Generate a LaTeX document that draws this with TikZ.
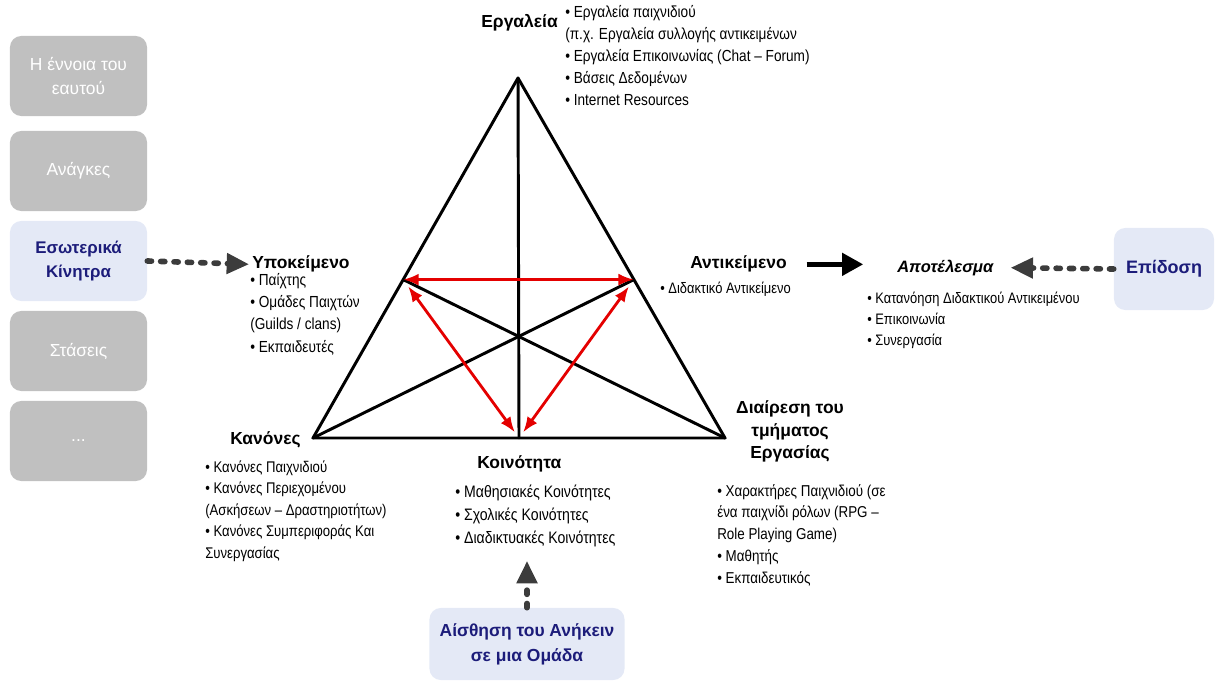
\documentclass[tikz,border=0pt]{standalone}
\usepackage{fontspec}
\setmainfont{Liberation Sans}
\newfontfamily\narrowfont{Liberation Sans}[FakeStretch=0.85]
\usepackage{tikz}
\usetikzlibrary{positioning, arrows.meta, calc}
\definecolor{boxgrey}{RGB}{192,192,192}
\definecolor{boxblue}{RGB}{228,233,246}
\definecolor{navy}{RGB}{28,28,122}
\definecolor{linkred}{RGB}{228,0,0}
\definecolor{dashgrey}{RGB}{60,60,60}

\begin{document}
\begin{tikzpicture}[
  x=0.025cm, y=-0.025cm,
  sidebox/.style={fill=boxgrey, text=white, rounded corners=8pt, minimum width=3.425cm, minimum height=2cm, align=center, inner sep=2pt, font=\fontsize{12.4pt}{17pt}\selectfont},
  keybox/.style={sidebox, fill=boxblue, text=navy, font=\bfseries\fontsize{12pt}{17pt}\selectfont},
  head/.style={inner sep=0pt, font=\bfseries\fontsize{12.4pt}{16.3pt}\selectfont},
  items/.style={inner sep=0pt, align=left, font=\narrowfont\fontsize{#1}{1.38\dimexpr#1\relax}\selectfont},
  items/.default=10.8pt,
  tri/.style={line width=2.1pt, line join=round, line cap=round},
  link/.style={linkred, line width=2pt, {Latex[length=11pt,width=8.5pt]}-{Latex[length=11pt,width=8.5pt]}},
  dashlink/.style={dashgrey, line width=4pt, line cap=round, dash pattern=on 3pt off 6.5pt, -{Triangle[length=16pt,width=14pt]}},
  bigarrow/.style={black, line width=3.5pt, -{Triangle[length=15pt,width=15.5pt]}}
]
\useasboundingbox (0,0) rectangle (1224,689);

% --- left column of boxes ---
\node[sidebox] (self) at (78.5,76) {Η έννοια του\\εαυτού};
\node[sidebox] (needs) at (78.5,171) {Ανάγκες};
\node[keybox] (motive) at (78.5,261) {Εσωτερικά\\Κίνητρα};
\node[sidebox] (attitude) at (78.5,351) {Στάσεις};
\node[sidebox] (more) at (78.5,441) {...};

% --- triangle corners ---
\coordinate (apex) at (518,78);
\coordinate (left) at (313,438);
\coordinate (right) at (725,438);
\coordinate (midl) at ($(apex)!0.56!(left)$);
\coordinate (midr) at ($(apex)!0.56!(right)$);
\coordinate (midb) at ($(left)!0.5!(right)$);

\draw[tri] (apex) -- (left) -- (right) -- cycle;
\draw[tri] (apex) -- (midb);
\draw[tri] (left) -- (midr);
\draw[tri] (right) -- (midl);

% red links between the sides
\draw[link] (midl) -- (midr);
\draw[link, shorten <=6pt, shorten >=5pt] (midl) -- (midb);
\draw[link, shorten <=6pt, shorten >=5pt] (midr) -- (midb);

% --- labels at the corners (base = last line) ---
\node[head, anchor=base east] (tools) at (558,28) {Εργαλεία};
\node[items=11.4pt, anchor=base west] (toollist) at (565,106) {• Εργαλεία παιχνιδιού\\(π.χ. Εργαλεία συλλογής αντικειμένων\\• Εργαλεία Επικοινωνίας (Chat – Forum)\\• Βάσεις Δεδομένων\\• Internet Resources};

\node[head, anchor=base west] (subj) at (252,269) {Υποκείμενο};
\node[items=11.4pt, anchor=base west] (subjlist) at (250,352) {• Παίχτης\\• Ομάδες Παιχτών\\(Guilds / clans)\\• Εκπαιδευτές};

\node[head, anchor=base west] (obj) at (690,269) {Αντικείμενο};
\node[items, anchor=base west] (objlist) at (660,293) {• Διδακτικό Αντικείμενο};

\node[head, anchor=base west, font=\bfseries\itshape\fontsize{11.7pt}{16pt}\selectfont] (result) at (897,272) {Αποτέλεσμα};
\node[items, anchor=base west] (resultlist) at (867,345) {• Κατανόηση Διδακτικού Αντικειμένου\\• Επικοινωνία\\• Συνεργασία};

\node[head, anchor=base west] (rules) at (230,444) {Κανόνες};
\node[items=11pt, anchor=base west] (rulelist) at (205,558) {• Κανόνες Παιχνιδιού\\• Κανόνες Περιεχομένου\\(Ασκήσεων – Δραστηριοτήτων)\\• Κανόνες Συμπεριφοράς Και\\Συνεργασίας};

\node[head, anchor=base west] (comm) at (477,468) {Κοινότητα};
\node[items=11.8pt, anchor=base west] (commlist) at (455,543) {• Μαθησιακές Κοινότητες\\• Σχολικές Κοινότητες\\• Διαδικτυακές Κοινότητες};

\node[head, anchor=north, align=center] (labour) at (790,400) {Διαίρεση του\\τμήματος\\Εργασίας};
\node[items=11.2pt, anchor=base west] (labourlist) at (717,583) {• Χαρακτήρες Παιχνιδιού (σε\\ένα παιχνίδι ρόλων (RPG –\\Role Playing Game)\\• Μαθητής\\• Εκπαιδευτικός};

% --- boxes on the right and below ---
\node[keybox, minimum width=2.5cm, minimum height=2.05cm, font=\bfseries\fontsize{12.8pt}{17pt}\selectfont] (perform) at (1164,269) {Επίδοση};
\node[keybox, minimum width=4.875cm, minimum height=1.8cm, font=\bfseries\fontsize{12.4pt}{17.7pt}\selectfont] (belong) at (527,644) {Αίσθηση του Ανήκειν\\σε μια Ομάδα};

% --- arrows ---
\draw[dashlink, shorten >=2pt] (motive.east) -- (subj.west);
\draw[dashlink, shorten >=12pt] (perform.west) -- (result.east);
\draw[bigarrow, shorten <=14pt, shorten >=24pt] (obj.east) -- (obj.east -| result.west);
\draw[dashlink, shorten >=10pt] (belong.north) -- (belong.north |- commlist.south);
\end{tikzpicture}
\end{document}
